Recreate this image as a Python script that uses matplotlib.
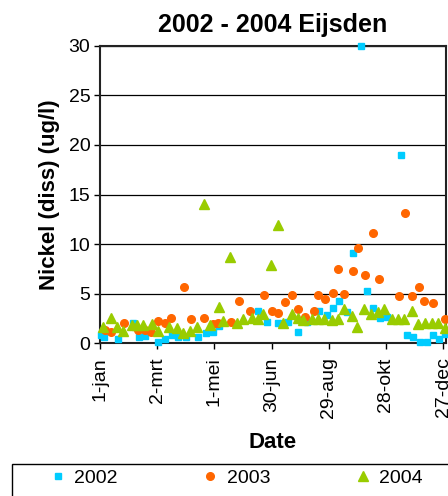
import matplotlib
matplotlib.use("Agg")
import matplotlib.pyplot as plt
from matplotlib.patches import Rectangle

plt.rcParams['font.family'] = ['Liberation Sans', 'DejaVu Sans']

# day of year (0 = 1 jan) and dissolved nickel (ug/l)
days_2002 = [1, 4, 19, 35, 41, 47, 61, 68, 76, 82, 90, 103, 111, 119, 125, 166, 175, 187, 197, 208,
             217, 230, 238, 244, 251, 259, 265, 274, 280, 286, 294, 301, 316, 322, 328, 336, 343, 349, 356, 362]
ni_2002 = [0.8, 0.6, 0.4, 2.0, 0.6, 0.7, 0.1, 0.4, 0.8, 0.6, 0.6, 0.6, 1.0, 1.1, 1.7, 3.3, 2.1, 2.0, 2.1, 1.1,
           2.1, 3.3, 2.9, 3.6, 4.3, 3.2, 9.1, 30.0, 5.3, 3.6, 2.6, 2.7, 19.0, 0.8, 0.6, 0.1, 0.1, 0.8, 0.4, 0.9]

days_2003 = [5, 12, 25, 40, 47, 54, 61, 68, 75, 88, 95, 109, 119, 124, 137, 146, 157, 172, 180, 187,
             194, 201, 208, 215, 224, 229, 236, 244, 250, 256, 265, 271, 278, 286, 293, 314, 320, 327, 335, 340,
             349, 362]
ni_2003 = [1.3, 1.1, 2.0, 1.3, 1.3, 1.1, 2.2, 2.0, 2.6, 5.7, 2.4, 2.6, 1.9, 2.0, 2.1, 4.3, 3.3, 4.9, 3.3, 3.1,
           4.2, 4.9, 3.5, 2.7, 3.3, 4.9, 4.5, 5.1, 7.5, 5.0, 7.3, 9.6, 6.9, 11.1, 6.5, 4.8, 13.1, 4.8, 5.7, 4.3,
           4.1, 2.5]

days_2004 = [3, 12, 18, 24, 34, 39, 45, 55, 61, 72, 81, 87, 94, 102, 109, 115, 125, 129, 136, 144,
             150, 159, 166, 171, 179, 187, 192, 201, 208, 213, 222, 229, 235, 243, 250, 256, 264, 270, 277, 284,
             292, 298, 306, 313, 319, 327, 334, 341, 348, 355, 362]
ni_2004 = [1.6, 2.6, 1.6, 1.2, 1.8, 1.8, 1.8, 1.9, 1.2, 1.6, 1.5, 1.0, 1.2, 1.6, 14.0, 1.8, 3.7, 2.2, 8.7, 2.0,
           2.5, 2.6, 2.5, 3.0, 7.9, 11.9, 2.0, 3.0, 2.6, 2.3, 2.5, 2.5, 2.5, 2.3, 2.5, 3.5, 2.8, 1.6, 3.5, 3.0,
           3.2, 3.5, 2.5, 2.5, 2.5, 3.3, 1.9, 2.0, 2.0, 2.0, 1.5]

tick_days = [0, 60, 120, 180, 240, 300, 360]
tick_labels = ['1-jan', '2-mrt', '1-mei', '30-jun', '29-aug', '28-okt', '27-dec']

W, H = 448, 496
fig = plt.figure(figsize=(W / 100, H / 100), dpi=100)
ax = fig.add_axes([100 / W, 152.7 / H, 346 / W, 297.6 / H])

ax.plot(days_2002, ni_2002, ls='none', marker='s', ms=5, color='#00CCFF', mec='#00CCFF',
        label='2002', clip_on=False, zorder=3)
ax.plot(days_2003, ni_2003, ls='none', marker='o', ms=5.5, color='#FF6600', mec='#FF6600',
        label='2003', clip_on=False, zorder=3)
ax.plot(days_2004, ni_2004, ls='none', marker='^', ms=7, color='#99CC00', mec='#99CC00',
        label='2004', clip_on=False, zorder=3)

ax.set_xlim(0, 363)
ax.set_ylim(0, 30)
ax.set_yticks(range(0, 31, 5))
ax.set_xticks(tick_days)
ax.set_xticklabels(tick_labels, rotation=90)
ax.tick_params(direction='out', length=4, width=1, labelsize=14)
ax.tick_params(axis='x', pad=6)
ax.tick_params(axis='y', pad=3)
ax.yaxis.grid(True, color='black', lw=0.9)
ax.set_axisbelow(True)
for s in ax.spines.values():
    s.set_color('#222222')
    s.set_linewidth(1.5)

ax.set_title('2002 - 2004 Eijsden', fontsize=18, fontweight='bold', pad=10)
ax.set_ylabel('Nickel (diss) (ug/l)', fontsize=16, fontweight='bold', labelpad=6)
ax.set_xlabel('Date', fontsize=16, fontweight='bold', labelpad=10)

# legend frame runs past the right and bottom edges, as in the original export
fig.patches.append(Rectangle((12 / W, -0.05), 1.0, (H - 464) / H + 0.05,
                             transform=fig.transFigure, fill=False,
                             edgecolor='black', lw=1.0))
fig.legend(loc='center left', bbox_to_anchor=(48 / W, 1 - 478 / H), ncol=3,
           fontsize=14, frameon=False, borderpad=0, borderaxespad=0,
           columnspacing=4.25, handletextpad=0.35, handlelength=1.0)

fig.savefig('out.png', dpi=100, facecolor='white')
